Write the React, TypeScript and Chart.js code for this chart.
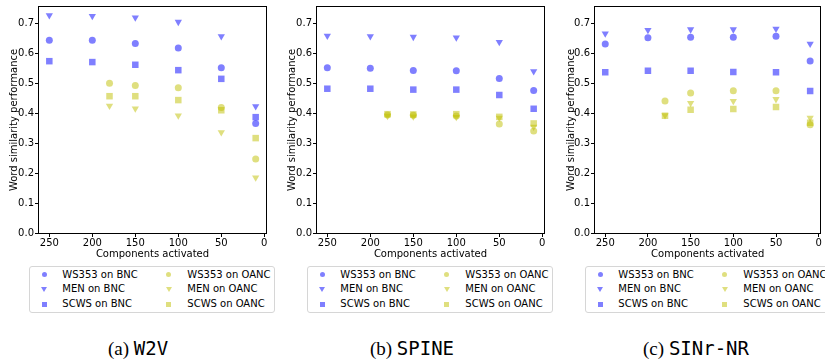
import React, { useEffect, useRef } from "react";
import { Chart, registerables } from "chart.js";

Chart.register(...registerables);

// ---- data ----
const seriesLabels = [
  "WS353 on BNC",
  "MEN on BNC",
  "SCWS on BNC",
  "WS353 on OANC",
  "MEN on OANC",
  "SCWS on OANC",
];
const xTicks = [250, 200, 150, 100, 50, 0];
const yTicks = [0, 0.1, 0.2, 0.3, 0.4, 0.5, 0.6, 0.7];
const bncX = [250, 200, 150, 100, 50, 10];
const oancX = [180, 150, 100, 50, 10];

// (a) W2V
const w2vWs353Bnc = [0.644, 0.644, 0.633, 0.618, 0.552, 0.366];
const w2vMenBnc = [0.727, 0.725, 0.72, 0.705, 0.657, 0.423];
const w2vScwsBnc = [0.574, 0.571, 0.562, 0.544, 0.515, 0.387];
const w2vWs353Oanc = [0.5, 0.493, 0.485, 0.419, 0.247];
const w2vMenOanc = [0.425, 0.416, 0.392, 0.336, 0.185];
const w2vScwsOanc = [0.457, 0.457, 0.444, 0.41, 0.317];

// (b) SPINE
const spineWs353Bnc = [0.552, 0.55, 0.543, 0.542, 0.516, 0.476];
const spineMenBnc = [0.659, 0.657, 0.655, 0.653, 0.638, 0.54];
const spineScwsBnc = [0.482, 0.482, 0.479, 0.479, 0.461, 0.415];
const spineWs353Oanc = [0.394, 0.393, 0.391, 0.364, 0.341];
const spineMenOanc = [0.391, 0.389, 0.387, 0.385, 0.355];
const spineScwsOanc = [0.397, 0.396, 0.397, 0.388, 0.366];

// (c) SINr-NR
const sinrWs353Bnc = [0.631, 0.652, 0.654, 0.654, 0.657, 0.575];
const sinrMenBnc = [0.666, 0.678, 0.68, 0.68, 0.682, 0.632];
const sinrScwsBnc = [0.537, 0.542, 0.542, 0.538, 0.537, 0.474];
const sinrWs353Oanc = [0.441, 0.468, 0.475, 0.475, 0.362];
const sinrMenOanc = [0.393, 0.434, 0.441, 0.447, 0.385];
const sinrScwsOanc = [0.392, 0.412, 0.414, 0.421, 0.368];

const captionLetters = ["(a)", "(b)", "(c)"];
const captionNames = ["W2V", "SPINE", "SINr-NR"];

// ---- styles ----
const BLUE = "rgba(0,0,255,0.5)";
const YELLOW = "rgba(191,191,0,0.5)";
const FONT = "'DejaVu Sans', sans-serif";

type Panel = {
  canvasLeft: number;
  canvasWidth: number;
  rightPad: number;
  titlePad: number;
  captionCenter: number;
  series: number[][];
};

const panels: Panel[] = [
  {
    canvasLeft: 0,
    canvasWidth: 275,
    rightPad: 9,
    titlePad: 8.5,
    captionCenter: 138,
    series: [w2vWs353Bnc, w2vMenBnc, w2vScwsBnc, w2vWs353Oanc, w2vMenOanc, w2vScwsOanc],
  },
  {
    canvasLeft: 278,
    canvasWidth: 275,
    rightPad: 9,
    titlePad: 8.5,
    captionCenter: 412,
    series: [spineWs353Bnc, spineMenBnc, spineScwsBnc, spineWs353Oanc, spineMenOanc, spineScwsOanc],
  },
  {
    canvasLeft: 556,
    canvasWidth: 269,
    rightPad: 2,
    titlePad: 9.5,
    captionCenter: 696,
    series: [sinrWs353Bnc, sinrMenBnc, sinrScwsBnc, sinrWs353Oanc, sinrMenOanc, sinrScwsOanc],
  },
];

const Y_AXIS_W = 39;
const CANVAS_H = 260;
const TOP_PAD = 7;
const X_AXIS_H = 27;

const styles = [
  { shape: "circle", color: BLUE, radius: 3.5, rot: 0 },
  { shape: "triangle", color: BLUE, radius: 4.2, rot: 180 },
  { shape: "rect", color: BLUE, radius: 4.6, rot: 0 },
  { shape: "circle", color: YELLOW, radius: 3.5, rot: 0 },
  { shape: "triangle", color: YELLOW, radius: 4.2, rot: 180 },
  { shape: "rect", color: YELLOW, radius: 4.6, rot: 0 },
];

const framePlugin = {
  id: "frame",
  afterDraw(chart: any) {
    const { ctx, chartArea: a } = chart;
    ctx.save();
    ctx.strokeStyle = "#000";
    ctx.lineWidth = 1;
    ctx.strokeRect(Math.round(a.left) - 0.5, Math.round(a.top) - 0.5, Math.round(a.right - a.left) + 1, Math.round(a.bottom - a.top) + 1);
    ctx.restore();
  },
};

function PanelChart({ panel }: { panel: Panel }) {
  const ref = useRef<HTMLCanvasElement>(null);
  useEffect(() => {
    const datasets = panel.series.map((ys, i) => {
      const xs = i < 3 ? bncX : oancX;
      const st = styles[i];
      return {
        label: seriesLabels[i],
        data: xs.map((x, j) => ({ x, y: ys[j] })),
        pointStyle: st.shape,
        pointRadius: st.radius,
        pointRotation: st.rot,
        backgroundColor: st.color,
        borderColor: st.color,
        borderWidth: 0,
        showLine: false,
      };
    });
    const chart = new Chart(ref.current as HTMLCanvasElement, {
      type: "scatter",
      data: { datasets } as any,
      options: {
        animation: false,
        responsive: false,
        devicePixelRatio: 1,
        events: [],
        layout: { padding: { left: 0, top: TOP_PAD, right: panel.rightPad, bottom: 0 } },
        plugins: { legend: { display: false }, tooltip: { enabled: false } },
        scales: {
          x: {
            type: "linear",
            min: -2,
            max: 262,
            reverse: true,
            afterBuildTicks: (s: any) => {
              s.ticks = xTicks.map((v) => ({ value: v }));
            },
            afterFit: (s: any) => {
              s.height = X_AXIS_H;
            },
            ticks: {
              callback: (v: any) => String(v),
              color: "#000",
              font: { family: FONT, size: 10 },
              padding: 0,
              maxRotation: 0,
              autoSkip: false,
            },
            grid: { drawOnChartArea: false, drawTicks: true, tickLength: 4, color: "#000" },
            border: { display: false },
            title: {
              display: true,
              text: "Components activated",
              color: "#000",
              font: { family: FONT, size: 10 },
              padding: { top: 0, bottom: 0 },
            },
          },
          y: {
            type: "linear",
            min: 0,
            max: 0.755,
            afterBuildTicks: (s: any) => {
              s.ticks = yTicks.map((v) => ({ value: v }));
            },
            afterFit: (s: any) => {
              s.width = Y_AXIS_W;
            },
            ticks: {
              callback: (v: any) => Number(v).toFixed(1),
              color: "#000",
              font: { family: FONT, size: 10 },
              padding: 1,
              autoSkip: false,
            },
            grid: { drawOnChartArea: false, drawTicks: true, tickLength: 4, color: "#000" },
            border: { display: false },
            title: {
              display: true,
              text: "Word similarity performance",
              color: "#000",
              font: { family: FONT, size: 10 },
              padding: { top: panel.titlePad, bottom: 0 },
            },
          },
        },
      } as any,
      plugins: [framePlugin],
    });
    return () => chart.destroy();
  }, [panel]);
  return (
    <canvas
      ref={ref}
      width={panel.canvasWidth}
      height={CANVAS_H}
      style={{ position: "absolute", left: panel.canvasLeft, top: 0, display: "block" }}
    />
  );
}

function Marker({ i }: { i: number }) {
  const st = styles[i];
  if (st.shape === "circle") {
    return <div style={{ width: 5, height: 5, borderRadius: "50%", background: st.color }} />;
  }
  if (st.shape === "rect") {
    return <div style={{ width: 5, height: 5, background: st.color }} />;
  }
  return (
    <div
      style={{
        width: 0,
        height: 0,
        borderLeft: "3px solid transparent",
        borderRight: "3px solid transparent",
        borderTop: `5px solid ${st.color}`,
      }}
    />
  );
}

function Legend({ left }: { left: number }) {
  const rows = [9, 23.8, 38.6];
  return (
    <div
      style={{
        position: "absolute",
        left,
        top: 265.5,
        width: 246,
        height: 47.5,
        boxSizing: "border-box",
        border: "1px solid #d6d6d6",
        borderRadius: 3,
        background: "#fff",
        fontFamily: FONT,
        fontSize: 10,
        color: "#000",
      }}
    >
      {seriesLabels.map((lab, i) => {
        const col = i < 3 ? 0 : 1;
        const row = i % 3;
        const mx = col === 0 ? 14 : 138.5;
        const tx = col === 0 ? 32 : 157;
        const cy = rows[row] - 1;
        return (
          <React.Fragment key={lab}>
            <div
              style={{
                position: "absolute",
                left: mx - 3,
                top: cy - 3,
                width: 6,
                height: 6,
                display: "flex",
                alignItems: "center",
                justifyContent: "center",
              }}
            >
              <Marker i={i} />
            </div>
            <div
              style={{
                position: "absolute",
                left: tx,
                top: cy - 6,
                height: 12,
                lineHeight: "12px",
                whiteSpace: "nowrap",
              }}
            >
              {lab}
            </div>
          </React.Fragment>
        );
      })}
    </div>
  );
}

export default function App() {
  return (
    <div
      style={{
        position: "absolute",
        left: 0,
        top: 0,
        width: 825,
        height: 360,
        overflow: "hidden",
        background: "#fff",
      }}
    >
      {panels.map((p, k) => (
        <React.Fragment key={k}>
          <PanelChart panel={p} />
          <Legend left={p.canvasLeft + Y_AXIS_W - 9.7} />
          <div
            style={{
              position: "absolute",
              left: p.captionCenter - 150,
              width: 300,
              top: 336,
              height: 24,
              lineHeight: "24px",
              textAlign: "center",
              fontSize: 19,
              color: "#000",
              whiteSpace: "nowrap",
            }}
          >
            <span style={{ fontFamily: "'Liberation Serif', serif" }}>{captionLetters[k]}</span>
            <span style={{ fontFamily: "'Liberation Serif', serif" }}> </span>
            <span style={{ fontFamily: "'DejaVu Sans Mono', monospace" }}>{captionNames[k]}</span>
          </div>
        </React.Fragment>
      ))}
    </div>
  );
}
